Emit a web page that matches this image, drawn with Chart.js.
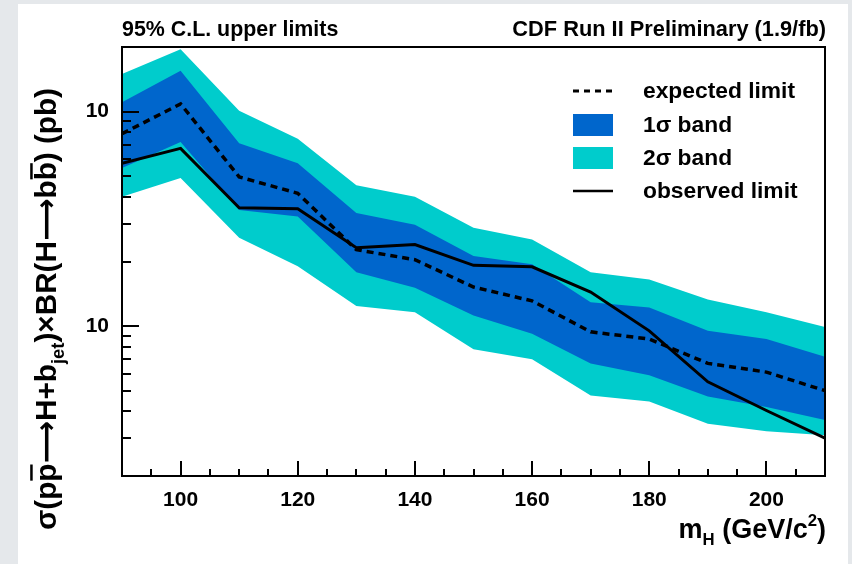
<!DOCTYPE html>
<html>
<head>
<meta charset="utf-8">
<script src="https://cdn.jsdelivr.net/npm/chart.js@4.4.1/dist/chart.umd.min.js"></script>
<style>
  html, body { margin: 0; padding: 0; width: 852px; height: 564px; overflow: hidden; background: #e5e8eb; }
  #panel { position: absolute; left: 18px; top: 4px; width: 830px; height: 560px; background: #ffffff; }
  #c { position: absolute; left: 0; top: 0; }
</style>
</head>
<body>
<div id="panel"></div>
<canvas id="c" width="852" height="564"></canvas>
<script>
// ---- data ----
const massPoints = [90, 100, 110, 120, 130, 140, 150, 160, 170, 180, 190, 200, 210];
const observedLimit = [57.4, 67.4, 35.6, 35.2, 23.2, 24.0, 19.2, 18.9, 14.4, 9.5, 5.5, 4.04, 3.0];
const expectedLimit = [78.8, 108.6, 49.6, 41.6, 22.7, 20.4, 15.2, 13.1, 9.4, 8.7, 6.7, 6.1, 5.0];
const band1Up   = [110.4, 154.8, 71.1, 57.4, 33.7, 29.7, 21.2, 19.4, 12.9, 12.2, 9.5, 8.7, 7.2];
const band1Down = [54.5, 72.1, 34.8, 32.4, 17.8, 15.1, 11.2, 9.2, 6.7, 5.9, 4.7, 4.2, 3.65];
const band2Up   = [149.5, 195, 101, 74.7, 45.4, 40.1, 28.7, 25.3, 17.8, 16.5, 13.3, 11.6, 9.9];
const band2Down = [40.1, 49.0, 25.8, 19.0, 12.4, 11.6, 7.8, 7.0, 4.75, 4.45, 3.5, 3.23, 3.1];

const xTickValues = [100, 120, 140, 160, 180, 200];
const xMinorValues = [95, 105, 110, 115, 125, 130, 135, 145, 150, 155, 165, 170, 175, 185, 190, 195, 205];
const yTickValues = [10, 100];
const yTickLabels = ['10', '10'];
const yMinorValues = [3, 4, 5, 6, 7, 8, 9, 20, 30, 40, 50, 60, 70, 80, 90];

const legendLabels = ['expected limit', '1\u03c3 band', '2\u03c3 band', 'observed limit'];
const titleLeft = '95% C.L. upper limits';
const titleRight = 'CDF Run II Preliminary (1.9/fb)';

const COL1 = '#0066cc';
const COL2 = '#00cccc';
const FONT = '"Liberation Sans", Arial, Helvetica, sans-serif';
const ARROW_FONT = '"DejaVu Sans", "Liberation Sans", sans-serif';

const pts = arr => massPoints.map((m, i) => ({ x: m, y: arr[i] }));

const decor = {
  id: 'decor',
  afterDatasetsDraw(chart) {
    const ctx = chart.ctx, a = chart.chartArea;
    const xs = chart.scales.x, ys = chart.scales.y;
    ctx.save();
    ctx.strokeStyle = '#000';
    ctx.lineWidth = 2;
    const xt = (v, len) => { const p = Math.round(xs.getPixelForValue(v)); ctx.beginPath(); ctx.moveTo(p, a.bottom); ctx.lineTo(p, a.bottom - len); ctx.stroke(); };
    xTickValues.forEach(v => xt(v, 15));
    xMinorValues.forEach(v => xt(v, 7));
    const yt = (v, len) => { const p = Math.round(ys.getPixelForValue(v)); ctx.beginPath(); ctx.moveTo(a.left, p); ctx.lineTo(a.left + len, p); ctx.stroke(); };
    yTickValues.forEach(v => yt(v, 17));
    yMinorValues.forEach(v => yt(v, 9));
    ctx.lineWidth = 2;
    ctx.strokeRect(a.left, a.top, a.right - a.left, a.bottom - a.top);
    ctx.restore();
  },
  afterDraw(chart) {
    const ctx = chart.ctx, a = chart.chartArea;
    ctx.save();
    ctx.fillStyle = '#000';
    ctx.font = 'bold 21.4px ' + FONT;
    ctx.textBaseline = 'alphabetic';
    ctx.textAlign = 'left';
    ctx.fillText(titleLeft, a.left, 36);
    ctx.textAlign = 'right';
    ctx.font = 'bold 21.8px ' + FONT;
    ctx.fillText(titleRight, a.right + 1, 36);

    // legend
    const lx0 = 573, lx1 = 613, tx = 643;
    const rows = [91, 125, 158, 191];
    ctx.font = 'bold 22.8px ' + FONT;
    ctx.textAlign = 'left';
    ctx.textBaseline = 'middle';
    ctx.strokeStyle = '#000';
    ctx.lineWidth = 3;
    ctx.setLineDash([6, 5]);
    ctx.beginPath(); ctx.moveTo(lx0, rows[0]); ctx.lineTo(lx1, rows[0]); ctx.stroke();
    ctx.setLineDash([]);
    ctx.fillStyle = COL1; ctx.fillRect(lx0, rows[1] - 11, lx1 - lx0, 22);
    ctx.fillStyle = COL2; ctx.fillRect(lx0, rows[2] - 11, lx1 - lx0, 22);
    ctx.lineWidth = 2.5;
    ctx.beginPath(); ctx.moveTo(lx0, rows[3]); ctx.lineTo(lx1, rows[3]); ctx.stroke();
    ctx.fillStyle = '#000';
    legendLabels.forEach((t, i) => ctx.fillText(t, tx, rows[i] + 1));

    // x-axis title
    const fs = 27;
    const segsX = [
      { t: 'm', s: 1, dy: 0 },
      { t: 'H', s: 0.62, dy: 7 },
      { t: ' (GeV/c', s: 1, dy: 0 },
      { t: '2', s: 0.62, dy: -12 },
      { t: ')', s: 1, dy: 0 }
    ];
    ctx.textBaseline = 'alphabetic';
    ctx.textAlign = 'left';
    let wX = 0;
    segsX.forEach(sg => { ctx.font = 'bold ' + (fs * sg.s) + 'px ' + FONT; sg.w = ctx.measureText(sg.t).width; wX += sg.w; });
    let x = a.right + 1 - wX;
    const baseX = 538;
    segsX.forEach(sg => { ctx.font = 'bold ' + (fs * sg.s) + 'px ' + FONT; ctx.fillText(sg.t, x, baseX + sg.dy); x += sg.w; });

    // y-axis title (rotated)
    const fy = 30;
    const segsY = [
      { t: '\u03c3(p', s: 1, dy: 0 },
      { t: 'p', s: 1, dy: 0, over: true },
      { t: '\u27f6', s: 1, dy: 0, f: ARROW_FONT },
      { t: 'H+b', s: 1, dy: 0 },
      { t: 'jet', s: 0.62, dy: 8 },
      { t: ')\u00d7BR(H', s: 1, dy: 0 },
      { t: '\u27f6', s: 1, dy: 0, f: ARROW_FONT },
      { t: 'b', s: 1, dy: 0 },
      { t: 'b', s: 1, dy: 0, over: true },
      { t: ') (pb)', s: 1, dy: 0 }
    ];
    const fontOf = sg => 'bold ' + (fy * sg.s) + 'px ' + (sg.f || FONT);
    let wY = 0;
    segsY.forEach(sg => { ctx.font = fontOf(sg); sg.w = ctx.measureText(sg.t).width; wY += sg.w; });
    const targetLen = 442;
    const k = targetLen / wY;
    ctx.translate(56, 309);
    ctx.rotate(-Math.PI / 2);
    ctx.scale(k, 1);
    let px = -wY / 2;
    segsY.forEach(sg => {
      ctx.font = fontOf(sg);
      ctx.fillText(sg.t, px, sg.dy);
      if (sg.over) ctx.fillRect(px + 1, -fy * 0.86, sg.w - 2, 2.5);
      px += sg.w;
    });
    ctx.restore();
  }
};

new Chart(document.getElementById('c'), {
  type: 'line',
  data: {
    datasets: [
      { label: '2s up', data: pts(band2Up), fill: '+1', backgroundColor: COL2, borderColor: 'rgba(0,0,0,0)', borderWidth: 0, pointRadius: 0, order: 10 },
      { label: '2s down', data: pts(band2Down), fill: false, borderColor: 'rgba(0,0,0,0)', borderWidth: 0, pointRadius: 0, order: 10 },
      { label: '1s up', data: pts(band1Up), fill: '+1', backgroundColor: COL1, borderColor: 'rgba(0,0,0,0)', borderWidth: 0, pointRadius: 0, order: 5 },
      { label: '1s down', data: pts(band1Down), fill: false, borderColor: 'rgba(0,0,0,0)', borderWidth: 0, pointRadius: 0, order: 5 },
      { label: 'expected limit', data: pts(expectedLimit), fill: false, borderColor: '#000', borderWidth: 3.5, borderDash: [7, 5], pointRadius: 0, order: 1 },
      { label: 'observed limit', data: pts(observedLimit), fill: false, borderColor: '#000', borderWidth: 3, pointRadius: 0, order: 0 }
    ]
  },
  options: {
    responsive: false,
    animation: false,
    devicePixelRatio: 1,
    layout: { padding: { top: 47, right: 27, left: 0, bottom: 0 } },
    plugins: { legend: { display: false }, tooltip: { enabled: false } },
    elements: { line: { tension: 0 } },
    scales: {
      x: {
        type: 'linear', min: 90, max: 210,
        grid: { display: false },
        border: { display: false },
        afterBuildTicks: s => { s.ticks = xTickValues.map(v => ({ value: v })); },
        afterFit: s => { s.height = 88; },
        ticks: { color: '#000', font: { family: FONT, size: 21, weight: 'bold' }, padding: 4, maxRotation: 0, autoSkip: false, callback: v => String(v) }
      },
      y: {
        type: 'logarithmic', min: 2, max: 200,
        grid: { display: false },
        border: { display: false },
        afterBuildTicks: s => { s.ticks = yTickValues.map(v => ({ value: v })); },
        afterFit: s => { s.width = 122; },
        ticks: { color: '#000', font: { family: FONT, size: 21, weight: 'bold' }, padding: 5, autoSkip: false,
          callback: v => { const i = yTickValues.indexOf(v); return i >= 0 ? yTickLabels[i] : ''; } }
      }
    }
  },
  plugins: [decor]
});
</script>
</body>
</html>
